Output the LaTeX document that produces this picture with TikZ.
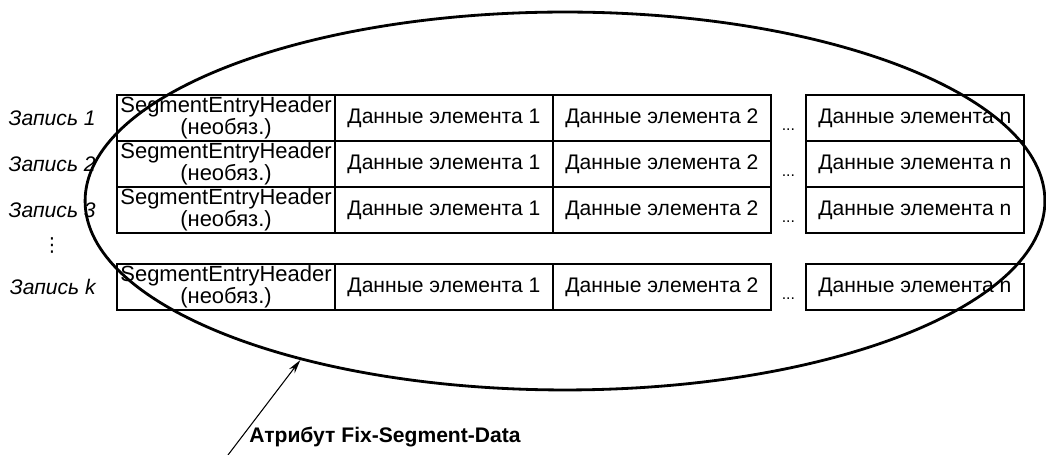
\documentclass[tikz,border=0pt]{standalone}
\usepackage{fontspec}
\setmainfont{Liberation Sans}
\newfontfamily\symfont{DejaVu Sans}
\usetikzlibrary{positioning,shapes.geometric,arrows.meta}

\begin{document}
\begin{tikzpicture}[x=0.02cm, y=-0.02cm, node distance=0pt,
  cell/.style={draw, line width=1.1pt, minimum width=4.36cm, minimum height=0.92cm,
    inner sep=0pt, outer sep=0pt, align=center, font=\fontsize{12}{10.2}\selectfont},
  hdr/.style={cell, font=\fontsize{12.5}{10.2}\selectfont},
  rec/.style={inner sep=0pt, font=\fontsize{12}{14}\selectfont\itshape},
  gapdots/.style={inner sep=0pt, anchor=base, font=\fontsize{9}{10}\selectfont}]
  \useasboundingbox (0,0) rectangle (1046,455);

  \node[hdr] (h1) at (226,118) {SegmentEntryHeader\\(необяз.)};
  \node[cell, right=of h1] (a1) {Данные элемента 1};
  \node[cell, right=of a1] (b1) {Данные элемента 2};
  \node[cell, right=0.7cm of b1] (n1) {Данные элемента n};

  \node[hdr, below=of h1] (h2) {SegmentEntryHeader\\(необяз.)};
  \node[cell, right=of h2] (a2) {Данные элемента 1};
  \node[cell, right=of a2] (b2) {Данные элемента 2};
  \node[cell, right=0.7cm of b2] (n2) {Данные элемента n};

  \node[hdr, below=of h2] (h3) {SegmentEntryHeader\\(необяз.)};
  \node[cell, right=of h3] (a3) {Данные элемента 1};
  \node[cell, right=of a3] (b3) {Данные элемента 2};
  \node[cell, right=0.7cm of b3] (n3) {Данные элемента n};

  \node[hdr, below=0.62cm of h3] (hk) {SegmentEntryHeader\\(необяз.)};
  \node[cell, right=of hk] (ak) {Данные элемента 1};
  \node[cell, right=of ak] (bk) {Данные элемента 2};
  \node[cell, right=0.7cm of bk] (nk) {Данные элемента n};

  \node[rec, left=0.42cm of h1] (r1) {Запись 1};
  \node[rec, left=0.42cm of h2] (r2) {Запись 2};
  \node[rec, left=0.42cm of h3] (r3) {Запись 3};
  \node[rec, left=0.42cm of hk] (rk) {Запись k};
  \node[inner sep=0pt, font=\fontsize{11}{12}\symfont] (vd) at (52,245) {⋮};

  \node[gapdots] (d1) at ([xshift=0.35cm, yshift=0.2cm]b1.south east) {...};
  \node[gapdots] (d2) at ([xshift=0.35cm, yshift=0.2cm]b2.south east) {...};
  \node[gapdots] (d3) at ([xshift=0.35cm, yshift=0.2cm]b3.south east) {...};
  \node[gapdots] (dk) at ([xshift=0.35cm, yshift=0.2cm]bk.south east) {...};

  \node[draw, ellipse, line width=1.6pt, minimum width=19.2cm, minimum height=7.56cm,
    inner sep=0pt] (attr) at (565,201) {};
  \node[inner sep=0pt, anchor=west, font=\fontsize{12}{14}\selectfont\bfseries]
    (attrname) at (249,437) {Атрибут Fix-Segment-Data};
  \coordinate (tail) at (228,455);
  \draw[-{Stealth[length=8pt,width=4pt]}, line width=0.6pt] (tail) -- (attr.211);
\end{tikzpicture}
\end{document}
